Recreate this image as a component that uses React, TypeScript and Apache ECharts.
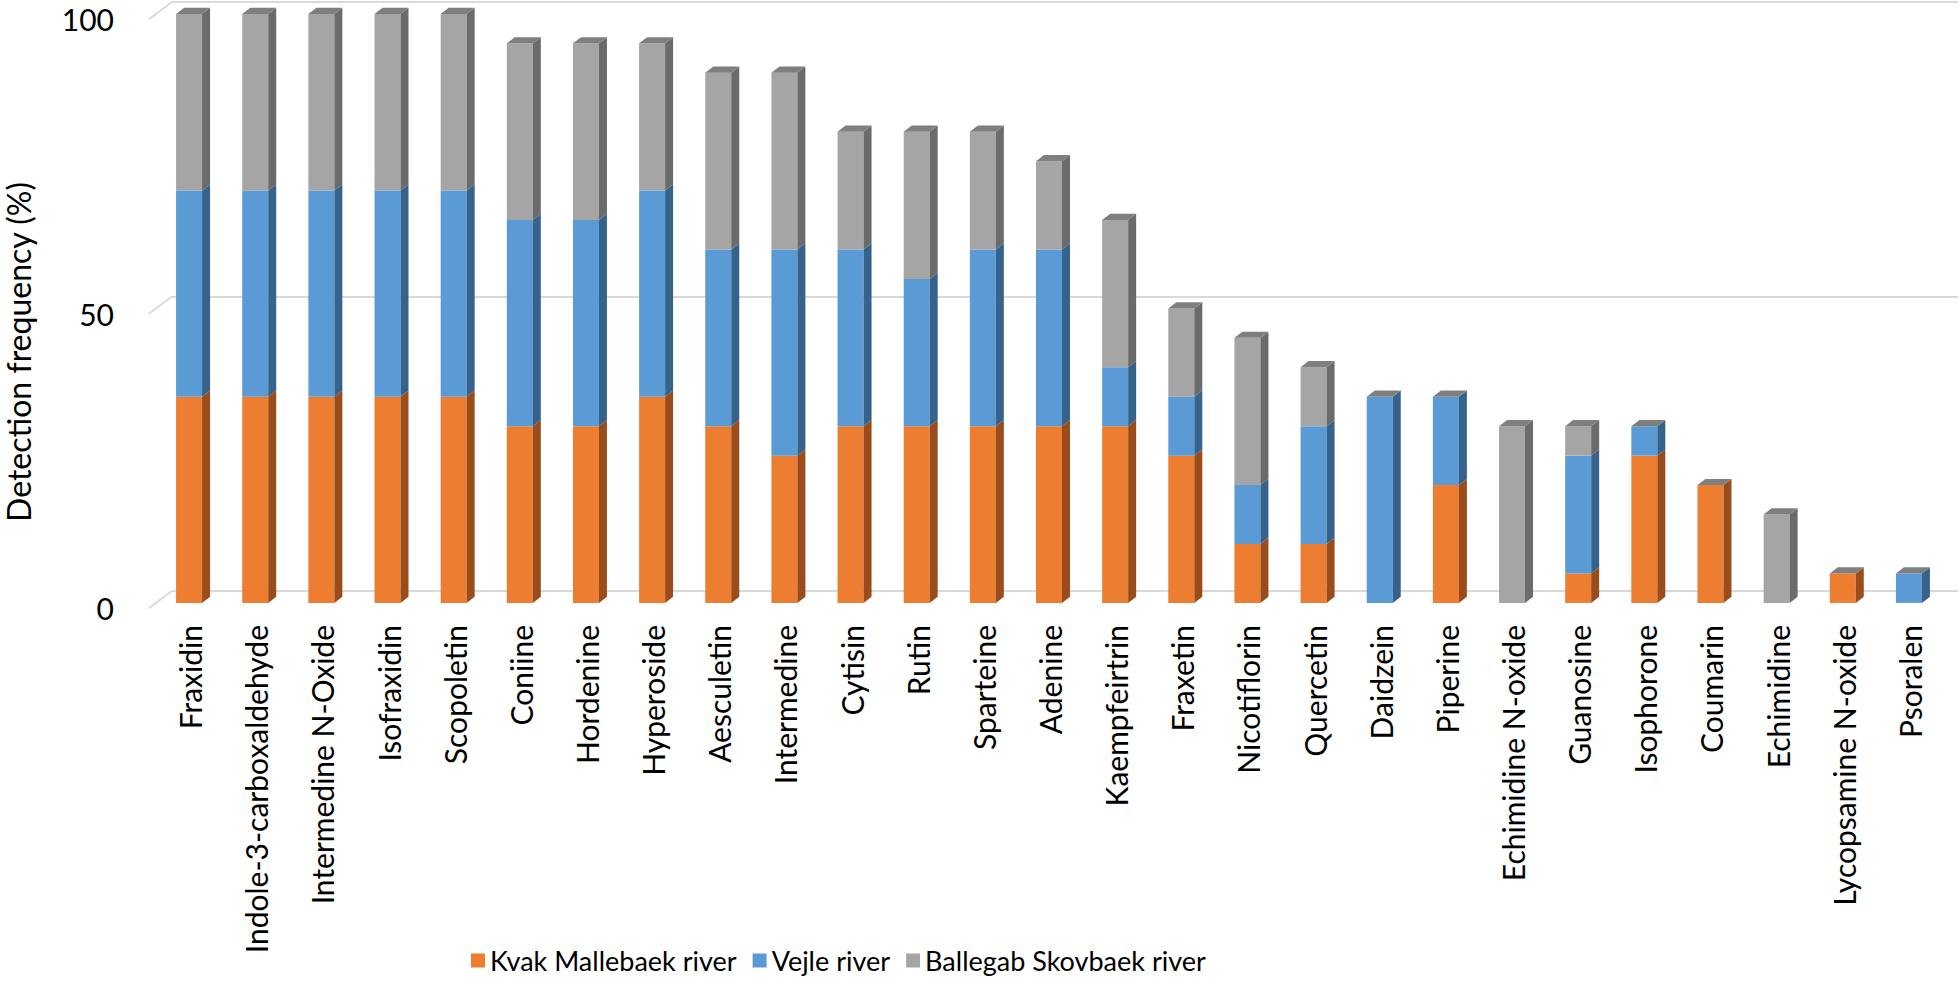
import React, { useEffect, useRef } from "react";
import * as echarts from "echarts";

const categories = [
  "Fraxidin", "Indole-3-carboxaldehyde", "Intermedine N-Oxide", "Isofraxidin", "Scopoletin",
  "Coniine", "Hordenine", "Hyperoside", "Aesculetin", "Intermedine", "Cytisin", "Rutin",
  "Sparteine", "Adenine", "Kaempfeirtrin", "Fraxetin", "Nicotiflorin", "Quercetin", "Daidzein",
  "Piperine", "Echimidine N-oxide", "Guanosine", "Isophorone", "Coumarin", "Echimidine",
  "Lycopsamine N-oxide", "Psoralen",
];
const kvakMallebaek = [35, 35, 35, 35, 35, 30, 30, 35, 30, 25, 30, 30, 30, 30, 30, 25, 10, 10, 0, 20, 0, 5, 25, 20, 0, 5, 0];
const vejle = [35, 35, 35, 35, 35, 35, 35, 35, 30, 35, 30, 25, 30, 30, 10, 10, 10, 20, 35, 15, 0, 20, 5, 0, 0, 0, 5];
const ballegabSkovbaek = [30, 30, 30, 30, 30, 30, 30, 25, 30, 30, 20, 25, 20, 15, 25, 15, 25, 10, 0, 0, 30, 5, 0, 0, 15, 0, 0];
const seriesNames = ["Kvak Mallebaek river", "Vejle river", "Ballegab Skovbaek river"];
const yTicks = [0, 50, 100];

const FONT = "Lato";

const palette = [
  { front: "#ED7D31", side: "#9A4D1B" },
  { front: "#5B9BD5", side: "#36638C" },
  { front: "#A5A5A5", side: "#6B6B6B" },
];
const TOP_FACE = "#7F7F7F";

export default function App() {
  const ref = useRef<HTMLDivElement>(null);

  useEffect(() => {
    if (!ref.current) return;
    const chart = echarts.init(ref.current, undefined, { renderer: "svg" });
    const all = [kvakMallebaek, vejle, ballegabSkovbaek];
    const totals = categories.map((_, i) => all.reduce((s, arr) => s + arr[i], 0));

    const barSeries = all.map((arr, s) => {
      const data = arr.map((v, i) => {
        let base = 0;
        for (let k = 0; k < s; k++) base += all[k][i];
        return [i, base, base + v, totals[i], v];
      });
      return {
        type: "custom",
        name: seriesNames[s],
        xAxisIndex: 0,
        yAxisIndex: 0,
        itemStyle: { color: palette[s].front },
        data,
        renderItem: (params: any, api: any) => {
          const i = api.value(0);
          const base = api.value(1);
          const top = api.value(2);
          const total = api.value(3);
          const v = api.value(4);
          if (!v) return null;
          const band = api.size([1, 0])[0];
          const w = band * 0.393;
          const fdx = -band * 0.242;
          const fdy = band * 0.18;
          const ddx = band * 0.121;
          const ddy = -band * 0.094;
          const pB = api.coord([i, base]);
          const pT = api.coord([i, top]);
          const x0 = pB[0] + fdx - w / 2;
          const yB = pB[1] + fdy;
          const yT = pT[1] + fdy;
          const x1 = x0 + w;
          const children: any[] = [
            {
              type: "rect",
              shape: { x: x0, y: yT, width: w, height: yB - yT },
              style: { fill: palette[s].front },
            },
            {
              type: "polygon",
              shape: { points: [[x1, yT], [x1, yB], [x1 + ddx, yB + ddy], [x1 + ddx, yT + ddy]] },
              style: { fill: palette[s].side },
            },
          ];
          if (top === total) {
            children.push({
              type: "polygon",
              shape: { points: [[x0, yT], [x1, yT], [x1 + ddx, yT + ddy], [x0 + ddx, yT + ddy]] },
              style: { fill: TOP_FACE },
            });
          }
          return { type: "group", children };
        },
      };
    });

    const slantSeries = {
      type: "custom",
      name: "gridSlant",
      silent: true,
      xAxisIndex: 0,
      yAxisIndex: 0,
      data: yTicks.map((t) => [0, t]),
      renderItem: (params: any, api: any) => {
        const p = api.coord([0, api.value(1)]);
        const band = api.size([1, 0])[0];
        const x = params.coordSys.x;
        return {
          type: "line",
          shape: { x1: x, y1: p[1], x2: x - band * 0.35, y2: p[1] + band * 0.26 },
          style: { stroke: "#D9D9D9", lineWidth: 2 },
        };
      },
    };

    const labelFont = { fontFamily: FONT, color: "#000" };

    chart.setOption({
      animation: false,
      backgroundColor: "#ffffff",
      grid: [
        { left: 172, right: 2, top: 2, bottom: 399, containLabel: false, outerBoundsMode: "none" },
        { left: 157, right: 17, top: 2, bottom: 399, containLabel: false, outerBoundsMode: "none" },
      ],
      legend: {
        data: seriesNames,
        left: 466,
        top: 942,
        icon: "rect",
        itemWidth: 14,
        itemHeight: 14,
        itemGap: 16,
        textStyle: { ...labelFont, fontSize: 27 },
      },
      xAxis: [
        {
          type: "category",
          gridIndex: 0,
          data: categories,
          axisLine: { show: false },
          axisTick: { show: false },
          axisLabel: { show: false },
        },
        {
          type: "category",
          gridIndex: 1,
          data: categories,
          axisLine: { show: false },
          axisTick: { show: false },
          splitLine: { show: false },
          axisLabel: {
            interval: 0,
            rotate: 90,
            margin: 34,
            ...labelFont,
            fontSize: 30,
          },
        },
      ],
      yAxis: [
        {
          type: "value",
          gridIndex: 0,
          min: 0,
          max: 100,
          interval: 50,
          axisLine: { show: false },
          axisTick: { show: false },
          splitLine: { lineStyle: { color: "#D9D9D9", width: 2 } },
          axisLabel: {
            margin: 58,
            verticalAlign: "top",
            lineHeight: 34,
            ...labelFont,
            fontSize: 30,
          },
        },
        {
          type: "value",
          gridIndex: 1,
          min: 0,
          max: 100,
          show: false,
        },
      ],
      graphic: [
        {
          type: "text",
          x: 18,
          y: 352,
          rotation: Math.PI / 2,
          style: {
            text: "Detection frequency (%)",
            fontFamily: FONT,
            fontSize: 32,
            fill: "#000",
            align: "center",
            verticalAlign: "middle",
          },
        },
      ],
      series: [slantSeries, ...barSeries],
    });
    return () => chart.dispose();
  }, []);

  return (
    <div
      ref={ref}
      style={{ position: "fixed", left: 0, top: 0, width: 1960, height: 990, background: "#fff" }}
    />
  );
}
